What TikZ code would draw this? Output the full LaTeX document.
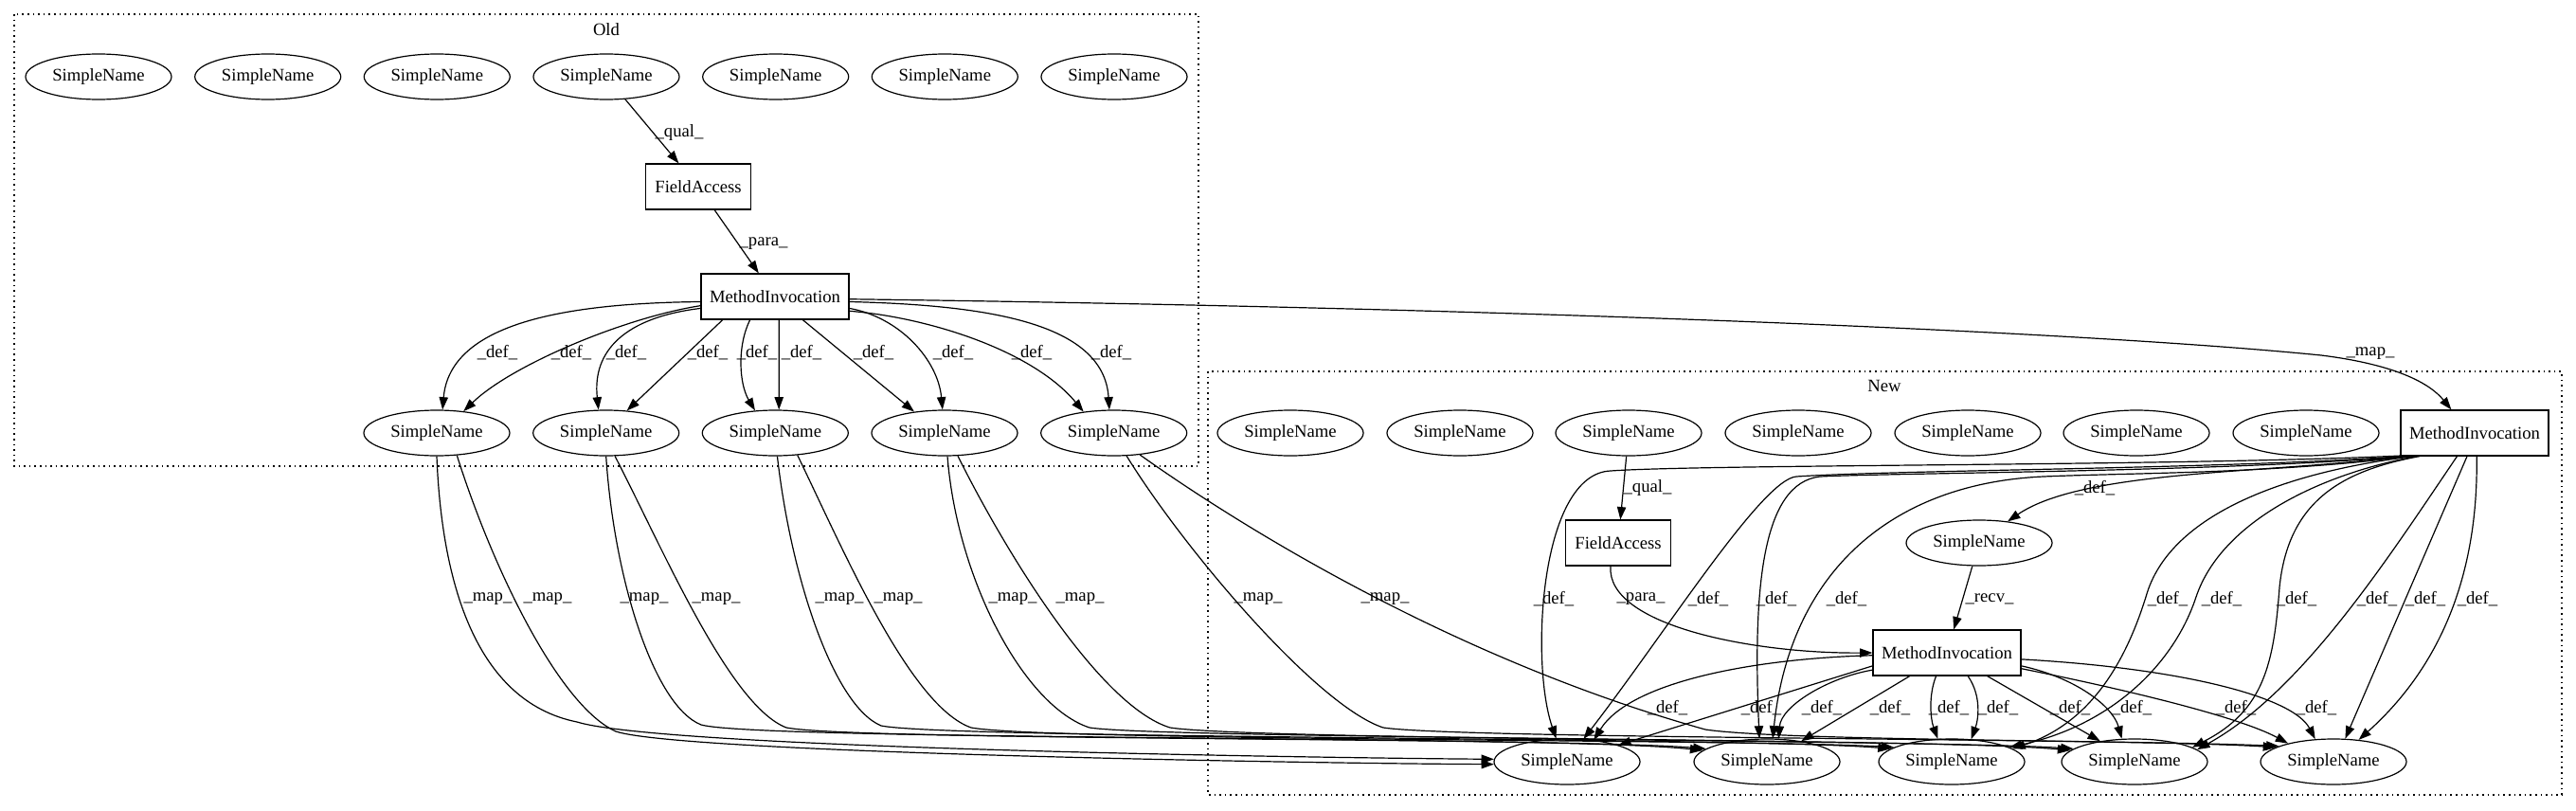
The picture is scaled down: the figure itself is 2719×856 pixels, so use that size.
\documentclass[tikz,border=0pt]{standalone}
\usepackage{fontspec}
\setmainfont{Liberation Serif}
\usetikzlibrary{shapes.geometric,arrows.meta}

\begin{document}
\begin{tikzpicture}[x=0.75pt,y=-0.75pt,>={Triangle[length=10pt,width=7pt]},line width=0.9pt,
  every node/.style={font=\fontsize{14}{16}\selectfont},
  sname/.style={draw,ellipse,minimum width=115.5pt,minimum height=36pt,inner sep=0pt},
  box/.style={draw,rectangle,minimum height=36pt,inner sep=0pt},
  lab/.style={inner sep=0pt},
  clus/.style={dash pattern=on 1.2pt off 3pt}]
\useasboundingbox (0,0) rectangle (2719,856);

% clusters
\draw[clus] (15,15) rectangle (1265,492);
\node (old) at (640,31) {Old};
\draw[clus] (1275,392) rectangle (2704,839);
\node (new) at (1989,407) {New};

% old
\node[sname] (ot1) at (104,81) {SimpleName};
\node[sname] (ot2) at (282.7,81) {SimpleName};
\node[sname] (ot3) at (461.3,81) {SimpleName};
\node[sname] (ot4) at (640,81) {SimpleName};
\node[sname] (ot5) at (818.7,81) {SimpleName};
\node[sname] (ot6) at (997.3,81) {SimpleName};
\node[sname] (ot7) at (1176,81) {SimpleName};
\node[box,minimum width=83pt] (ofa) at (737,197) {FieldAccess};
\node[box,minimum width=117pt] (omi) at (818,313) {MethodInvocation};
\node[sname] (ob1) at (461,457) {SimpleName};
\node[sname] (ob2) at (639.7,457) {SimpleName};
\node[sname] (ob3) at (818.3,457) {SimpleName};
\node[sname] (ob4) at (997,457) {SimpleName};
\node[sname] (ob5) at (1175.7,457) {SimpleName};

% new
\node[sname] (nt1) at (1362,457) {SimpleName};
\node[sname] (nt2) at (1541,457) {SimpleName};
\node[sname] (nt3) at (1719,457) {SimpleName};
\node[sname] (nt4) at (1898,457) {SimpleName};
\node[sname] (nt5) at (2077,457) {SimpleName};
\node[sname] (nt6) at (2255,457) {SimpleName};
\node[sname] (nt7) at (2434,457) {SimpleName};
\node[box,minimum width=117pt] (nmi) at (2612,457) {MethodInvocation};
\node[box,minimum width=83pt] (nfa) at (1708,573) {FieldAccess};
\node[sname] (nsn) at (2089,573) {SimpleName};
\node[box,minimum width=117pt] (nmi2) at (2055,689) {MethodInvocation};
\node[sname] (nb1) at (1654,804) {SimpleName};
\node[sname] (nb2) at (1865,804) {SimpleName};
\node[sname] (nb3) at (2060,804) {SimpleName};
\node[sname] (nb4) at (2253,804) {SimpleName};
\node[sname] (nb5) at (2463,804) {SimpleName};

\draw[->] (ot4) -- (ofa) node[lab] at (717,140) {\_qual\_};
\draw[->] (ofa) -- (omi) node[lab] at (806,257) {\_para\_};
\draw[->] (omi.184) .. controls (600,320) and (475,340) .. (ob1.76) node[lab] at (525,372) {\_def\_};
\draw[->] (omi.187) .. controls (660,335) and (540,385) .. (ob1.39) node[lab] at (603,372) {\_def\_};
\draw[->] (omi.189) .. controls (660,335) and (625,370) .. (ob2.108) node[lab] at (661,372) {\_def\_};
\draw[->] (omi.204) -- (ob2.47) node[lab] at (747,372) {\_def\_};
\draw[->] (omi.223) .. controls (778,365) and (780,405) .. (ob3.132) node[lab] at (799,372) {\_def\_};
\draw[->] (omi.280) -- (ob3.81) node[lab] at (846,372) {\_def\_};
\draw[->] (omi.320) -- (ob4.145) node[lab] at (922,372) {\_def\_};
\draw[->] (omi.351) .. controls (950,335) and (990,380) .. (ob4.95) node[lab] at (1006,372) {\_def\_};
\draw[->] (omi.349) .. controls (980,335) and (1090,370) .. (ob5.145) node[lab] at (1089,372) {\_def\_};
\draw[->] (omi.356) .. controls (1040,322) and (1165,340) .. (ob5.101) node[lab] at (1173,372) {\_def\_};

% old -> new
\draw[->] (omi.358) .. controls (1600,325) and (2200,350) .. (2450,375) .. controls (2530,385) and (2565,405) .. (nmi.135) node[lab] at (2502,373) {\_map\_};
\draw[->] (ob1.south) .. controls (466,610) and (500,740) .. (609,762) .. controls (700,790) and (1400,800) .. (nb1.178) node[lab] at (515,632) {\_map\_};
\draw[->] (ob1.312) .. controls (520,600) and (590,745) .. (650,772) .. controls (720,795) and (1400,806) .. (nb1.182) node[lab] at (578,632) {\_map\_};
\draw[->] (ob2.south) .. controls (648,610) and (690,745) .. (740,765) .. controls (800,782) and (1650,776) .. (nb2.170) node[lab] at (680,632) {\_map\_};
\draw[->] (ob2.291) .. controls (700,580) and (770,745) .. (830,768) .. controls (900,782) and (1650,778) .. (nb2.168) node[lab] at (756,632) {\_map\_};
\draw[->] (ob3.275) .. controls (835,610) and (880,745) .. (930,766) .. controls (1000,780) and (1850,778) .. (nb3.168) node[lab] at (886,632) {\_map\_};
\draw[->] (ob3.315) .. controls (890,580) and (960,745) .. (1025,768) .. controls (1100,782) and (1850,780) .. (nb3.166) node[lab] at (948,632) {\_map\_};
\draw[->] (ob4.277) .. controls (1010,610) and (1080,745) .. (1150,768) .. controls (1230,780) and (2050,779) .. (nb4.170) node[lab] at (1069,632) {\_map\_};
\draw[->] (ob4.300) .. controls (1060,580) and (1160,745) .. (1235,768) .. controls (1320,781) and (2050,781) .. (nb4.168) node[lab] at (1140,632) {\_map\_};
\draw[->] (ob5.299) .. controls (1250,580) and (1390,745) .. (1460,768) .. controls (1540,780) and (2250,779) .. (nb5.166) node[lab] at (1328,632) {\_map\_};
\draw[->] (ob5.320) .. controls (1330,570) and (1550,700) .. (1800,770) .. controls (1880,782) and (2250,781) .. (nb5.164) node[lab] at (1462,632) {\_map\_};

% new edges
\draw[->] (nt3) -- (nfa) node[lab] at (1739,515) {\_qual\_};
\draw[->] (nmi.198) .. controls (2400,500) and (2200,495) .. (nsn.37) node[lab] at (2211,515) {\_def\_};
\draw[->] (nsn) -- (nmi2) node[lab] at (2100,632) {\_recv\_};
\draw[->] (nfa.252) .. controls (1695,660) and (1850,690) .. (nmi2.west) node[lab] at (1732,632) {\_para\_};
\draw[->] (nmi.197) .. controls (2300,492) and (1800,490) .. (1700,497) .. controls (1625,500) and (1615,700) .. (nb1.115) node[lab] at (1640,632) {\_def\_};
\draw[->] (nmi.198) .. controls (2350,495) and (2000,496) .. (1896,503) .. controls (1860,506) and (1760,665) .. (nb1.54) node[lab] at (1803,632) {\_def\_};
\draw[->] (nmi.199) .. controls (2350,498) and (2000,499) .. (1921,503) .. controls (1860,510) and (1850,620) .. (nb2.108) node[lab] at (1875,632) {\_def\_};
\draw[->] (nmi.200) .. controls (2400,500) and (2250,499) .. (2157,503) .. controls (2000,510) and (1890,600) .. (nb2.76) node[lab] at (1949,632) {\_def\_};
\draw[->] (nmi.201) .. controls (2420,497) and (2290,540) .. (2265,630) .. controls (2240,710) and (2200,765) .. (nb3.12) node[lab] at (2288,632) {\_def\_};
\draw[->] (nmi.202) .. controls (2450,500) and (2345,550) .. (2318,630) .. controls (2295,700) and (2230,765) .. (nb3.14) node[lab] at (2345,632) {\_def\_};
\draw[->] (nmi.203) .. controls (2470,497) and (2415,530) .. (2406,620) .. controls (2400,700) and (2390,750) .. (nb4.14) node[lab] at (2424,632) {\_def\_};
\draw[->] (nmi.233) .. controls (2520,590) and (2430,730) .. (nb4.11) node[lab] at (2509,632) {\_def\_};
\draw[->] (nmi.252) -- (nb5.63) node[lab] at (2560,632) {\_def\_};
\draw[->] (nmi.275) .. controls (2616,600) and (2580,700) .. (nb5.41) node[lab] at (2615,632) {\_def\_};
\draw[->] (nmi2.182) .. controls (1850,695) and (1720,720) .. (nb1.39) node[lab] at (1760,747) {\_def\_};
\draw[->] (nmi2.190) -- (nb1.18) node[lab] at (1859,747) {\_def\_};
\draw[->] (nmi2.193) .. controls (1930,715) and (1880,745) .. (nb2.63) node[lab] at (1923,747) {\_def\_};
\draw[->] (nmi2.212) -- (nb2.31) node[lab] at (1995,747) {\_def\_};
\draw[->] (nmi2.245) .. controls (2035,735) and (2038,760) .. (nb3.121) node[lab] at (2057,747) {\_def\_};
\draw[->] (nmi2.312) .. controls (2092,735) and (2088,760) .. (nb3.49) node[lab] at (2109,747) {\_def\_};
\draw[->] (nmi2.330) -- (nb4.149) node[lab] at (2185,747) {\_def\_};
\draw[->] (nmi2.350) .. controls (2190,715) and (2230,745) .. (nb4.119) node[lab] at (2250,747) {\_def\_};
\draw[->] (nmi2.348) .. controls (2230,725) and (2360,755) .. (nb5.158) node[lab] at (2360,747) {\_def\_};
\draw[->] (nmi2.355) .. controls (2300,705) and (2420,735) .. (nb5.129) node[lab] at (2445,747) {\_def\_};
\end{tikzpicture}
\end{document}
